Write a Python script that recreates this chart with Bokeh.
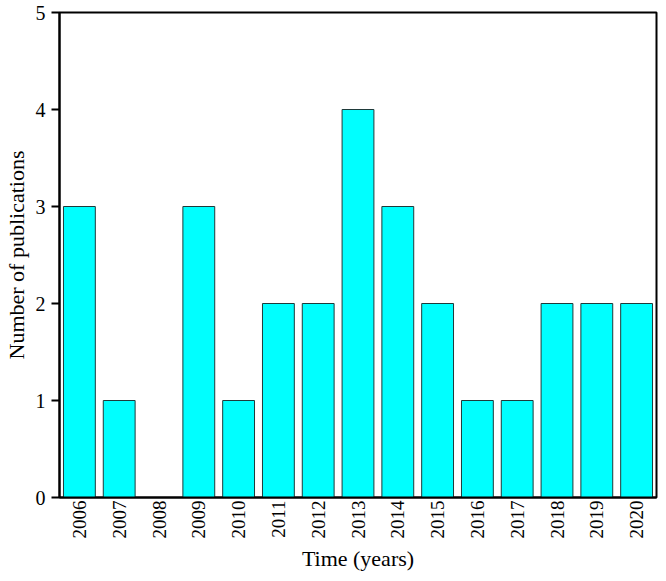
import math
from bokeh.plotting import figure
from bokeh.models import ColumnDataSource, FactorRange, Range1d
from bokeh.embed import file_html
from bokeh.resources import INLINE

years = ["2006", "2007", "2008", "2009", "2010", "2011", "2012", "2013",
         "2014", "2015", "2016", "2017", "2018", "2019", "2020"]
counts = [3, 1, 0, 3, 1, 2, 2, 4, 3, 2, 1, 1, 2, 2, 2]
y_ticks = [0, 1, 2, 3, 4, 5]

src = ColumnDataSource(data=dict(year=years, count=counts))

FONT = "Liberation Serif"

p = figure(width=658, height=573, x_range=FactorRange(*years, range_padding=0),
           y_range=Range1d(0, 5), output_backend="svg", toolbar_location=None,
           min_border_left=48, min_border_right=2, min_border_top=12,
           min_border_bottom=76)

p.vbar(x="year", top="count", width=0.8, source=src, fill_color="#00FFFF",
       line_color="#1f3a3a", line_width=1)

p.xgrid.grid_line_color = None
p.ygrid.grid_line_color = None
p.outline_line_color = "black"
p.outline_line_width = 2
p.outline_line_alpha = 1

p.yaxis.ticker = y_ticks
p.yaxis.major_tick_out = 8
p.yaxis.major_tick_in = 0
p.yaxis.minor_tick_line_color = None
p.yaxis.major_tick_line_width = 2
p.yaxis.axis_line_width = 2
p.yaxis.major_label_standoff = 6
p.yaxis.major_label_text_font = FONT
p.yaxis.major_label_text_font_size = "20px"
p.yaxis.major_label_text_color = "black"
p.yaxis.axis_label = "Number of publications"
p.yaxis.axis_label_text_font = FONT
p.yaxis.axis_label_text_font_size = "22px"
p.yaxis.axis_label_text_font_style = "normal"
p.yaxis.axis_label_text_color = "black"
p.yaxis.axis_label_standoff = 4

p.xaxis.major_tick_line_color = None
p.xaxis.major_tick_out = 0
p.xaxis.major_tick_in = 0
p.xaxis.axis_line_width = 2
p.xaxis.major_label_orientation = math.pi / 2
p.xaxis.major_label_standoff = 3
p.xaxis.major_label_text_font = FONT
p.xaxis.major_label_text_font_size = "19px"
p.xaxis.major_label_text_color = "black"
p.xaxis.axis_label = "Time (years)"
p.xaxis.axis_label_text_font = FONT
p.xaxis.axis_label_text_font_size = "22px"
p.xaxis.axis_label_text_font_style = "normal"
p.xaxis.axis_label_text_color = "black"
p.xaxis.axis_label_standoff = 4

open("out.html", "w").write(file_html(p, INLINE))
